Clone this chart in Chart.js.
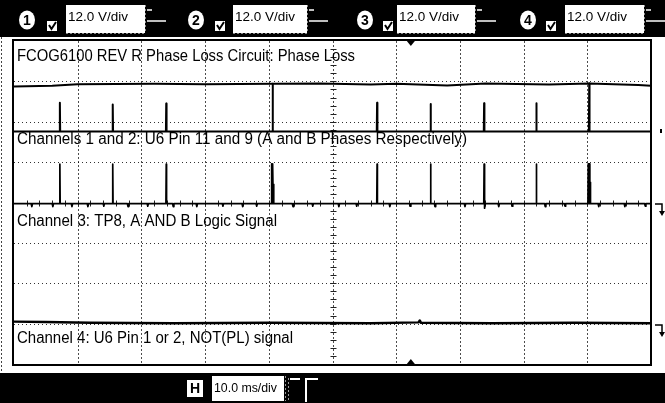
<!DOCTYPE html>
<html>
<head>
<meta charset="utf-8">
<title>FCOG6100 REV R Phase Loss Circuit</title>
<script src="https://cdn.jsdelivr.net/npm/chart.js@4.4.1/dist/chart.umd.min.js"></script>
<style>
  html, body { margin: 0; padding: 0; background: #fff; overflow: hidden; }
  canvas { display: block; }
</style>
</head>
<body>
<canvas id="scope" width="665" height="403"></canvas>
<script>
// Horizontal axis: time in ms (10.0 ms/div, 10 divisions)
const TIME_RANGE = [0, 100];
// Vertical axis: screen divisions (8 divisions, centre = 0)
const DIV_RANGE = [-4, 4];

// Channel settings shown in the header
const CHANNEL_IDS = ['1', '2', '3', '4'];
const CHANNEL_SCALES = ['12.0 V/div', '12.0 V/div', '12.0 V/div', '12.0 V/div'];
const TIMEBASE = '10.0 ms/div';

// Annotation lines written on the screen
const NOTES = [
  'FCOG6100 REV R Phase Loss Circuit: Phase Loss',
  'Channels 1 and 2: U6 Pin 11 and 9 (A and B Phases Respectively)',
  'Channel 3: TP8, A AND B Logic Signal',
  'Channel 4: U6 Pin 1 or 2, NOT(PL) signal'
];

// Upper trace of the top band (ms, div)
const ch1Upper = [
  [0, 2.87], [6, 2.89], [10, 2.93], [22, 2.94], [30, 2.93], [40.6, 2.94],
  [48, 2.95], [56, 2.92], [60, 2.94], [68, 2.9], [74, 2.95], [84, 2.92],
  [90.3, 2.95], [98, 2.91], [100, 2.89]
];

// Lower trace of the top band with its pulses (ms, div)
const ch1Lower = [
  [0, 1.76], [7.15, 1.76], [7.2, 2.47], [7.25, 1.76],
  [15.45, 1.76], [15.5, 2.43], [15.55, 1.76],
  [23.85, 1.76], [23.9, 2.45], [23.95, 1.76],
  [40.55, 1.76], [40.6, 2.94], [40.65, 1.76],
  [56.95, 1.76], [57.0, 2.47], [57.05, 1.76],
  [65.35, 1.76], [65.4, 2.44], [65.45, 1.76],
  [73.75, 1.76], [73.8, 2.46], [73.85, 1.76],
  [81.95, 1.76], [82.0, 2.46], [82.05, 1.76],
  [90.25, 1.76], [90.3, 2.95], [90.35, 1.76],
  [100, 1.76]
];

// Middle band trace with its pulses and small negative glitches (ms, div)
const ch2Trace = [
  [0, -0.03],
  [2.7, -0.03], [2.8, -0.1], [2.9, -0.03],
  [6.0, -0.03], [6.1, -0.1], [6.2, -0.03],
  [7.15, -0.03], [7.2, 0.95], [7.25, -0.03],
  [9.0, -0.03], [9.1, -0.1], [9.2, -0.03],
  [11.5, -0.03], [11.6, -0.1], [11.7, -0.03],
  [14.0, -0.03], [14.1, -0.09], [14.2, -0.03],
  [15.45, -0.03], [15.5, 0.95], [15.55, -0.03],
  [17.8, -0.03], [17.9, -0.1], [18.0, -0.03],
  [20.9, -0.03], [21.0, -0.09], [21.1, -0.03],
  [23.85, -0.03], [23.9, 0.95], [23.95, -0.03],
  [24.9, -0.03], [25.0, -0.1], [25.1, -0.03],
  [28.6, -0.03], [28.7, -0.1], [28.8, -0.03],
  [32.7, -0.03], [32.8, -0.09], [32.9, -0.03],
  [35.8, -0.03], [35.9, -0.1], [36.0, -0.03],
  [38.0, -0.03], [38.1, -0.09], [38.2, -0.03],
  [40.4, -0.03], [40.45, 0.96], [40.55, -0.03], [40.6, 0.96], [40.7, -0.03], [40.75, 0.45], [40.8, -0.03],
  [43.7, -0.03], [43.8, -0.1], [43.9, -0.03],
  [46.8, -0.03], [46.9, -0.09], [47.0, -0.03],
  [50.9, -0.03], [51.0, -0.1], [51.1, -0.03],
  [53.7, -0.03], [53.8, -0.09], [53.9, -0.03],
  [56.95, -0.03], [57.0, 0.95], [57.05, -0.03],
  [58.9, -0.03], [59.0, -0.1], [59.1, -0.03],
  [62.1, -0.03], [62.2, -0.09], [62.3, -0.03],
  [65.35, -0.03], [65.4, 0.95], [65.45, -0.03],
  [66.0, -0.03], [66.1, -0.1], [66.2, -0.03],
  [70.7, -0.03], [70.8, -0.1], [70.9, -0.03],
  [73.75, -0.03], [73.8, 0.95], [73.85, -0.03], [73.9, -0.14], [74.0, -0.03],
  [76.0, -0.03], [76.1, -0.1], [76.2, -0.03],
  [78.1, -0.03], [78.2, -0.09], [78.3, -0.03],
  [81.95, -0.03], [82.0, 0.95], [82.05, -0.03],
  [83.3, -0.03], [83.4, -0.1], [83.5, -0.03],
  [86.4, -0.03], [86.5, -0.09], [86.6, -0.03],
  [90.1, -0.03], [90.15, 0.96], [90.25, -0.03], [90.3, 0.96], [90.4, -0.03], [90.45, 0.5], [90.5, -0.03],
  [91.7, -0.03], [91.8, -0.1], [91.9, -0.03],
  [95.8, -0.03], [95.9, -0.1], [96.0, -0.03],
  [99.0, -0.03], [99.1, -0.09], [99.2, -0.03],
  [100, -0.03]
];

// Bottom band trace, NOT(PL) (ms, div)
const ch4Trace = [
  [0, -2.95], [5, -2.96], [12, -2.98], [25, -2.99], [40, -2.98], [56, -2.99],
  [63.5, -2.97], [63.7, -2.92], [63.9, -2.98], [75, -2.99], [88, -2.98], [100, -2.99]
];

// Trigger time (ms) marked at the top and bottom of the screen
const TRIGGER_TIME = 62.3;
// Reference level markers at the right edge (div)
const REF_LEVELS = [0, -3];

const FONT = "'Liberation Sans', Arial, Helvetica, sans-serif";

function toPoints(rows) {
  return rows.map(r => ({ x: r[0], y: r[1] }));
}

function fitText(ctx, text, x, yMid, font, width, color) {
  ctx.save();
  ctx.font = font;
  const w = ctx.measureText(text).width;
  ctx.translate(x, yMid);
  ctx.scale(width / w, 1);
  ctx.textBaseline = 'middle';
  ctx.textAlign = 'left';
  ctx.fillStyle = color || '#000';
  ctx.fillText(text, 0, 0);
  ctx.restore();
}

function line(ctx, x1, y1, x2, y2) {
  ctx.beginPath();
  ctx.moveTo(x1, y1);
  ctx.lineTo(x2, y2);
  ctx.stroke();
}

const screenPlugin = {
  id: 'scopeScreen',
  beforeDraw(chart) {
    const ctx = chart.ctx;
    const W = chart.width, H = chart.height;
    const xs = chart.scales.x, ys = chart.scales.y;
    ctx.save();
    ctx.fillStyle = '#fff';
    ctx.fillRect(0, 0, W, H);

    // header bar
    ctx.fillStyle = '#000';
    ctx.fillRect(0, 0, W, 37);
    // footer bar
    ctx.fillRect(0, 373, W, H - 373);

    // thin outer edge on the left
    ctx.strokeStyle = '#444';
    ctx.lineWidth = 1;
    ctx.setLineDash([2, 2]);
    line(ctx, 1.5, 37, 1.5, 373);
    ctx.setLineDash([]);

    // channel controls
    const circleX = [27, 196, 365, 528];
    const checkX = [47, 215, 383, 546];
    const boxX = [66, 233, 397, 565];
    const boxW = [79, 74, 78, 79];
    for (let i = 0; i < CHANNEL_IDS.length; i++) {
      // numbered badge
      ctx.fillStyle = '#fff';
      ctx.beginPath();
      ctx.ellipse(circleX[i], 20, 8, 9.5, 0, 0, Math.PI * 2);
      ctx.fill();
      ctx.fillStyle = '#000';
      ctx.font = 'bold 14px ' + FONT;
      ctx.textAlign = 'center';
      ctx.textBaseline = 'middle';
      ctx.fillText(CHANNEL_IDS[i], circleX[i], 21);
      // check box
      ctx.fillStyle = '#fff';
      ctx.fillRect(checkX[i], 21, 10, 10);
      ctx.strokeStyle = '#000';
      ctx.lineWidth = 2;
      ctx.beginPath();
      ctx.moveTo(checkX[i] + 2, 25);
      ctx.lineTo(checkX[i] + 4.5, 29);
      ctx.lineTo(checkX[i] + 9, 22);
      ctx.stroke();
      // scale box
      ctx.fillStyle = '#fff';
      ctx.fillRect(boxX[i], 5, boxW[i], 28);
      ctx.strokeStyle = '#888';
      ctx.lineWidth = 1;
      ctx.setLineDash([2, 2]);
      line(ctx, boxX[i] + boxW[i] + 0.5, 5, boxX[i] + boxW[i] + 0.5, 33);
      line(ctx, boxX[i], 33.5, boxX[i] + boxW[i], 33.5);
      ctx.setLineDash([]);
      fitText(ctx, CHANNEL_SCALES[i], boxX[i] + 2, 17, '13px ' + FONT, 60, '#000');
      // coupling glyph
      ctx.strokeStyle = '#fff';
      ctx.lineWidth = 1.5;
      const gx = boxX[i] + boxW[i] + 2;
      ctx.beginPath();
      ctx.moveTo(gx, 10);
      ctx.lineTo(gx + 5, 10);
      ctx.stroke();
      line(ctx, gx, 21, gx + 19, 21);
    }

    // timebase controls in the footer
    ctx.fillStyle = '#fff';
    ctx.fillRect(187, 380, 16, 17);
    ctx.fillStyle = '#000';
    ctx.font = 'bold 14px ' + FONT;
    ctx.textAlign = 'center';
    ctx.textBaseline = 'middle';
    ctx.fillText('H', 195, 389);
    ctx.fillStyle = '#fff';
    ctx.fillRect(212, 376, 72, 25);
    fitText(ctx, TIMEBASE, 214, 388, '13px ' + FONT, 63, '#000');
    ctx.strokeStyle = '#999';
    ctx.lineWidth = 1;
    ctx.setLineDash([2, 2]);
    line(ctx, 285.5, 376, 285.5, 401);
    line(ctx, 288.5, 378, 288.5, 401);
    ctx.setLineDash([]);
    ctx.strokeStyle = '#fff';
    ctx.lineWidth = 2;
    line(ctx, 290, 379, 300, 379);
    ctx.beginPath();
    ctx.moveTo(306, 402);
    ctx.lineTo(306, 379);
    ctx.lineTo(318, 379);
    ctx.stroke();

    // graticule
    const top = chart.chartArea.top, bottom = chart.chartArea.bottom;
    const left = chart.chartArea.left, right = chart.chartArea.right;
    ctx.strokeStyle = 'rgba(0,0,0,0.7)';
    ctx.lineWidth = 1;
    ctx.setLineDash([2, 2]);
    for (let t = TIME_RANGE[0] + 10; t < TIME_RANGE[1]; t += 10) {
      const px = Math.round(xs.getPixelForValue(t)) + 0.5;
      line(ctx, px, top, px, bottom);
    }
    ctx.strokeStyle = 'rgba(0,0,0,0.8)';
    ctx.setLineDash([1, 3]);
    for (let d = DIV_RANGE[0] + 1; d < DIV_RANGE[1]; d++) {
      const py = Math.round(ys.getPixelForValue(d)) + 0.5;
      line(ctx, left, py, right, py);
    }
    ctx.setLineDash([]);

    // centre axes with minor ticks
    const cx = Math.round(xs.getPixelForValue(50)) + 0.5;
    const cy = Math.round(ys.getPixelForValue(0)) + 0.5;
    ctx.strokeStyle = '#222';
    ctx.lineWidth = 1;
    for (let k = 1; k < 40; k++) {
      const py = Math.round(ys.getPixelForValue(DIV_RANGE[0] + k * 0.2)) + 0.5;
      line(ctx, cx - 3, py, cx + 3, py);
    }
    for (let k = 1; k < 50; k++) {
      const px = Math.round(xs.getPixelForValue(k * 2)) + 0.5;
      line(ctx, px, cy - 3, px, cy + 3);
    }
    ctx.restore();
  },
  afterDatasetsDraw(chart) {
    const ctx = chart.ctx;
    const xs = chart.scales.x, ys = chart.scales.y;
    const a = chart.chartArea;
    ctx.save();

    // screen annotations
    const noteY = [57, 140, 222, 339];
    const noteW = [338, 450, 260, 276];
    for (let i = 0; i < NOTES.length; i++) {
      fitText(ctx, NOTES[i], 17, noteY[i], '16px ' + FONT, noteW[i], '#000');
    }

    // screen frame
    ctx.strokeStyle = '#000';
    ctx.lineWidth = 2;
    ctx.strokeRect(a.left - 1, a.top - 1, a.right - a.left + 1, a.bottom - a.top + 2);

    // trigger position markers
    const tx = xs.getPixelForValue(TRIGGER_TIME);
    ctx.fillStyle = '#000';
    ctx.beginPath();
    ctx.moveTo(tx - 4, a.top);
    ctx.lineTo(tx + 4, a.top);
    ctx.lineTo(tx, a.top + 5);
    ctx.closePath();
    ctx.fill();
    ctx.beginPath();
    ctx.moveTo(tx - 4, a.bottom);
    ctx.lineTo(tx + 4, a.bottom);
    ctx.lineTo(tx, a.bottom - 5);
    ctx.closePath();
    ctx.fill();

    // reference level markers on the right
    ctx.strokeStyle = '#000';
    ctx.lineWidth = 1.5;
    REF_LEVELS.forEach(lv => {
      const py = Math.round(ys.getPixelForValue(lv)) + 1;
      const mx = a.right + 11;
      ctx.beginPath();
      ctx.moveTo(a.right + 4, py);
      ctx.lineTo(mx, py);
      ctx.lineTo(mx, py + 8);
      ctx.stroke();
      ctx.beginPath();
      ctx.moveTo(mx - 3, py + 7);
      ctx.lineTo(mx + 3, py + 7);
      ctx.lineTo(mx, py + 12);
      ctx.closePath();
      ctx.fill();
    });
    ctx.fillRect(a.right + 9, Math.round(ys.getPixelForValue(1.78)) - 2, 2, 4);
    ctx.restore();
  }
};

const traceStyle = {
  borderColor: '#000',
  pointRadius: 0,
  tension: 0,
  fill: false,
  borderJoinStyle: 'round',
  borderCapStyle: 'butt'
};

new Chart(document.getElementById('scope'), {
  type: 'line',
  data: {
    datasets: [
      Object.assign({ label: 'Ch1 upper', data: toPoints(ch1Upper), borderWidth: 2 }, traceStyle),
      Object.assign({ label: 'Ch1', data: toPoints(ch1Lower), borderWidth: 2 }, traceStyle),
      Object.assign({ label: 'Ch2', data: toPoints(ch2Trace), borderWidth: 1.7 }, traceStyle),
      Object.assign({ label: 'Ch4', data: toPoints(ch4Trace), borderWidth: 2.4 }, traceStyle)
    ]
  },
  options: {
    responsive: false,
    animation: false,
    devicePixelRatio: 1,
    events: [],
    layout: { padding: { left: 14, right: 14, top: 41, bottom: 39 } },
    plugins: { legend: { display: false }, tooltip: { enabled: false } },
    scales: {
      x: { type: 'linear', min: TIME_RANGE[0], max: TIME_RANGE[1], display: false },
      y: { type: 'linear', min: DIV_RANGE[0], max: DIV_RANGE[1], display: false }
    }
  },
  plugins: [screenPlugin]
});
</script>
</body>
</html>
